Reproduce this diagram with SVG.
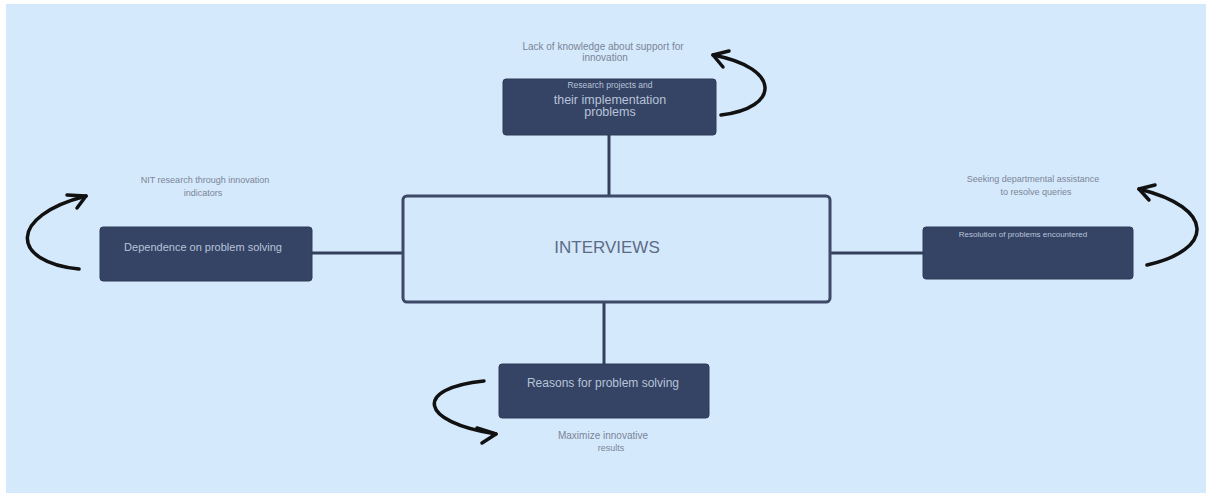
<svg xmlns="http://www.w3.org/2000/svg" width="1206" height="493" viewBox="0 0 1206 493">
<defs>
<style>
.dark{fill:#354365;stroke:#2f3b58;stroke-width:1}
.nt{font-family:"Liberation Sans",Arial,sans-serif;fill:#b7c3d8;text-anchor:middle}
.lt{font-family:"Liberation Sans",Arial,sans-serif;fill:#7a8596;text-anchor:middle}
.conn{stroke:#34405b;stroke-width:3;fill:none}
.arc{stroke:#111;stroke-width:3.5;fill:none;stroke-linecap:round;stroke-linejoin:round}
</style>
</defs>
<rect x="0" y="0" width="1206" height="493" fill="#ffffff"/>
<rect x="6" y="4" width="1200" height="489" fill="#d5e9fd"/>
<g id="connectors">
<line class="conn" x1="609" y1="135" x2="609" y2="196"/>
<line class="conn" x1="312" y1="253" x2="403" y2="253"/>
<line class="conn" x1="830" y1="253" x2="923" y2="253"/>
<line class="conn" x1="604" y1="302" x2="604" y2="364"/>
</g>
<g id="arrows">
<path class="arc" d="M721,115 C780,108 782,68 713,55"/>
<path class="arc" d="M729,51 L713,55 L723,67"/>
<path class="arc" d="M79,269 C10,262 8,216 86,196"/>
<path class="arc" d="M67,195 L86,196 L77,208"/>
<path class="arc" d="M1147,265 C1214,250 1216,208 1139,189"/>
<path class="arc" d="M1155,185 L1139,189 L1149,200"/>
<path class="arc" d="M484,381 C414,388 418,422 496,434"/>
<path class="arc" d="M477,428 L496,434 L482,443"/>
</g>
<g id="center">
<rect x="403" y="196" width="427" height="106" rx="4" fill="#d4e8fc" stroke="#3d4966" stroke-width="3"/>
<text x="607" y="253" font-family="'Liberation Sans',Arial,sans-serif" font-size="17" fill="#5d6b85" text-anchor="middle">INTERVIEWS</text>
</g>
<g id="top">
<rect class="dark" x="503" y="79" width="213" height="56" rx="3"/>
<text class="nt" x="610" y="88" font-size="8.5">Research projects and</text>
<text class="nt" x="610" y="104" font-size="12.5">their implementation</text>
<text class="nt" x="610" y="116" font-size="12.5">problems</text>
</g>
<g id="top-label">
<text class="lt" x="603" y="50" font-size="10">Lack of knowledge about support for</text>
<text class="lt" x="605" y="61" font-size="10">innovation</text>
</g>
<g id="left">
<rect class="dark" x="100" y="227" width="212" height="54" rx="3"/>
<text class="nt" x="203" y="251" font-size="11">Dependence on problem solving</text>
</g>
<g id="left-label">
<text class="lt" x="205" y="183" font-size="9">NIT research through innovation</text>
<text class="lt" x="203" y="196" font-size="9">indicators</text>
</g>
<g id="right">
<rect class="dark" x="923" y="227" width="210" height="52" rx="3"/>
<text class="nt" x="1023" y="237" font-size="8">Resolution of problems encountered</text>
</g>
<g id="right-label">
<text class="lt" x="1033" y="182" font-size="9">Seeking departmental assistance</text>
<text class="lt" x="1036" y="195" font-size="9">to resolve queries</text>
</g>
<g id="bottom">
<rect class="dark" x="499" y="364" width="210" height="54" rx="3"/>
<text class="nt" x="603" y="387" font-size="12">Reasons for problem solving</text>
</g>
<g id="bottom-label">
<text class="lt" x="603" y="439" font-size="10">Maximize innovative</text>
<text class="lt" x="611" y="451" font-size="9">results</text>
</g>
</svg>
